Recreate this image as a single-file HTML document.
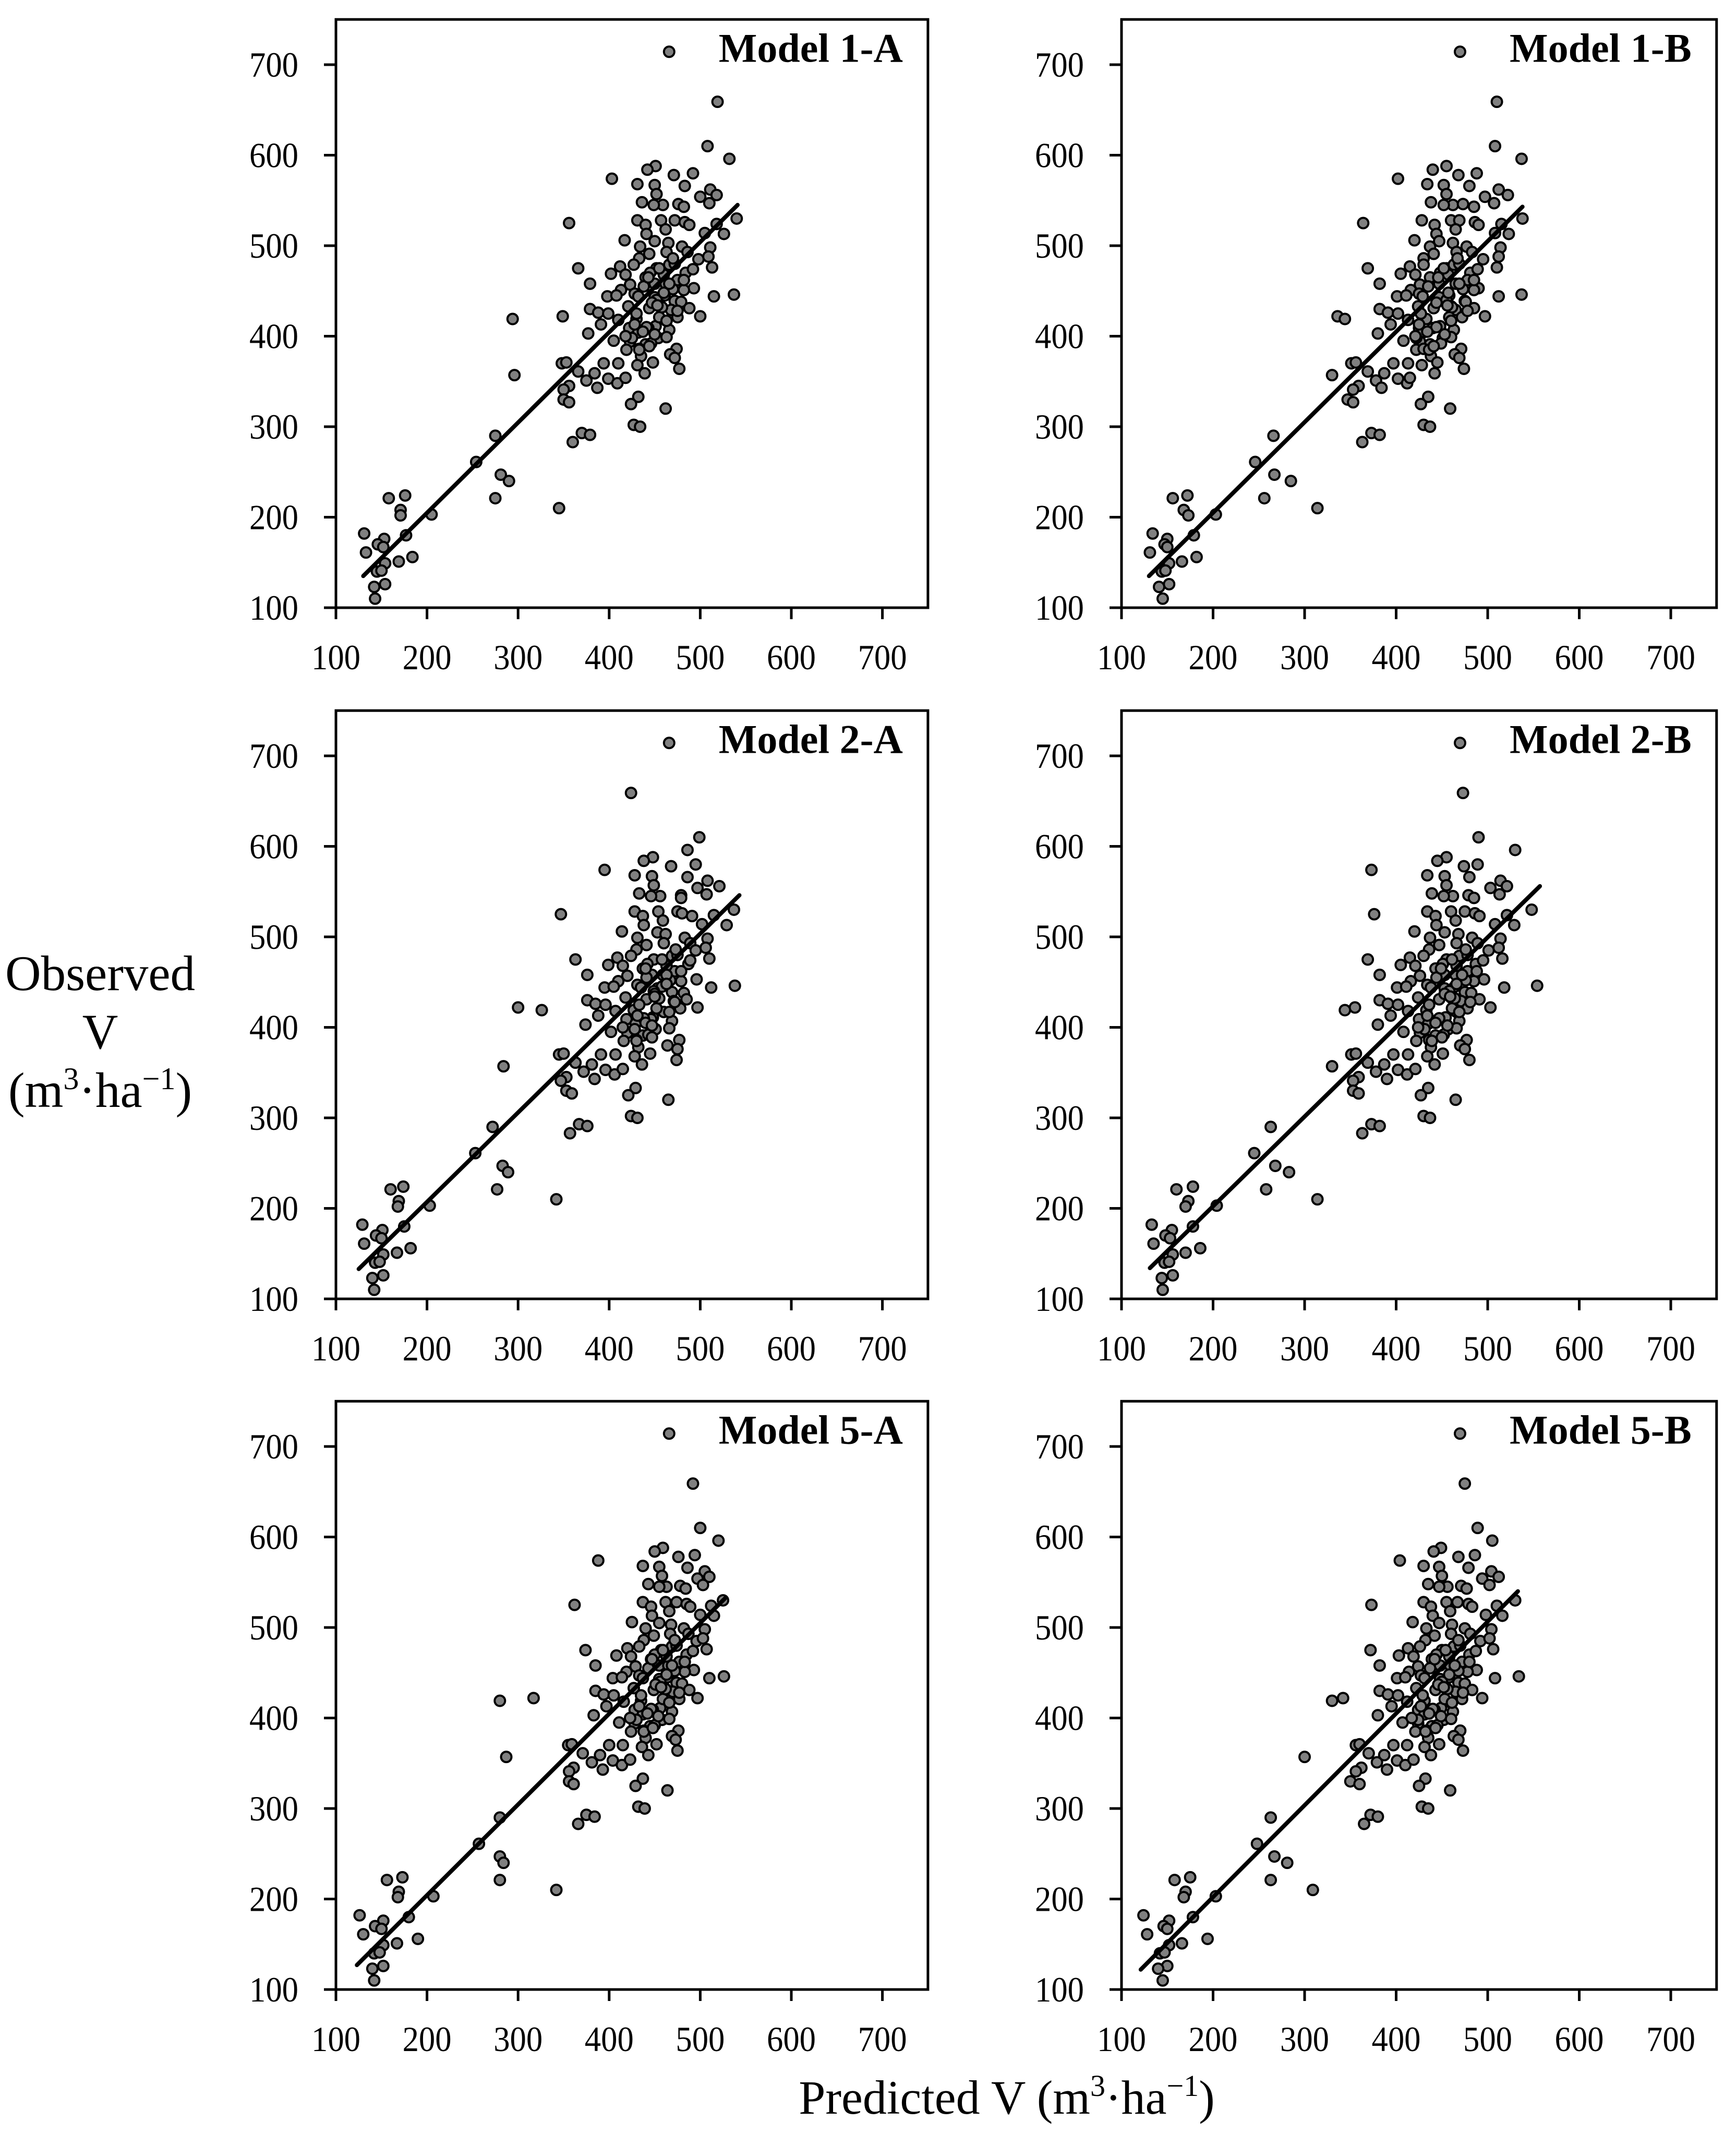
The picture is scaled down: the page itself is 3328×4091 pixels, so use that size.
<!DOCTYPE html>
<html><head><meta charset="utf-8"><style>
html,body{margin:0;padding:0;background:#fff;}
svg{display:block;font-family:"Liberation Serif",serif;}
</style></head><body>
<svg id="chart" xmlns="http://www.w3.org/2000/svg" width="3328" height="4091" viewBox="0 0 3328 4091">
<rect width="3328" height="4091" fill="#fff"/>
<g id="panels"></g>
<text x="192" y="1898" font-size="95" text-anchor="middle">Observed</text>
<text x="192" y="2010" font-size="95" text-anchor="middle">V</text>
<text x="192" y="2122" font-size="95" text-anchor="middle">(m<tspan font-size="60" dy="-34">3</tspan><tspan dy="34">·ha</tspan><tspan font-size="60" dy="-34">−1</tspan><tspan dy="34">)</tspan></text>
<text x="1930" y="4052" font-size="92" text-anchor="middle">Predicted V (m<tspan font-size="58" dy="-34">3</tspan><tspan dy="34">·ha</tspan><tspan font-size="58" dy="-34">−1</tspan><tspan dy="34">)</tspan></text>
</svg>
<script>
const panelTitles = ["Model 1-A","Model 1-B","Model 2-A","Model 2-B","Model 5-A","Model 5-B"];
const xTicks = [100,200,300,400,500,600,700];
const yTicks = [100,200,300,400,500,600,700];
const observed = [659,610,596,588,584,578,580,574,568,567,
566,562,556,554,557,548,545,546,543,547,
545,530,525,528,523,528,528,526,523,524,
514,513,513,518,506,505,503,499,499,498,
491,493,493,485,488,486,479,477,475,479,
475,469,468,465,470,474,476,462,458,457,
458,458,451,453,451,444,445,443,445,439,
438,444,446,433,430,426,431,433,429,431,
425,422,419,422,421,418,419,411,417,413,
409,409,407,403,395,404,394,398,399,391,
385,386,386,380,376,378,371,370,370,370,
371,368,359,361,353,348,354,357,359,351,
343,364,345,341,330,327,333,325,320,302,
300,290,293,291,283,261,247,240,221,210,
221,224,208,202,203,182,180,176,170,167,
161,149,151,156,140,141,126,123,110,
470,455,440,425,410,398,385,468,452,437,
421,405,392,480,462,447,432,417,402,389,
475,458,444,428,413,400,486,465,448,434];
const pred1A = [519,508,532,451,442,471,492,403,431,450,
483,511,518,500,452,436,459,476,482,510,
449,540,356,431,440,457,472,483,488,518,
505,526,441,462,417,450,465,434,480,511,
444,463,486,498,509,433,427,412,452,466,
366,402,418,440,484,492,513,475,379,423,
450,462,413,493,482,398,408,450,461,472,
479,515,537,421,379,388,444,457,468,488,
399,349,294,500,475,410,430,451,463,391,
422,443,466,377,405,432,423,454,463,440,
419,433,474,467,472,435,448,394,410,348,
353,431,439,366,399,409,418,296,384,375,
387,477,356,350,350,356,432,424,462,427,
434,275,370,379,360,254,281,290,275,345,
158,176,171,171,205,131,177,153,146,152,
133,154,169,184,145,150,154,142,143,
445,438,452,430,441,425,433,460,470,447,
455,437,446,472,482,428,458,463,450,444,
455,466,432,475,428,418,470,443,460,453];
const pred1B = [510,508,537,455,440,468,488,402,434,452,
480,512,522,497,455,438,462,473,485,507,
452,538,364,428,442,460,469,486,490,515,
508,523,444,465,420,447,462,437,477,514,
441,466,483,495,512,430,430,415,455,463,
369,405,421,437,481,489,510,478,382,426,
447,465,416,490,485,401,411,447,458,475,
476,512,537,424,382,391,441,460,465,485,
402,336,344,497,472,413,433,448,460,394,
425,440,463,380,408,429,426,451,460,437,
422,430,471,464,469,438,445,397,413,351,
356,428,442,369,402,412,415,330,387,378,
384,474,359,353,347,353,435,427,459,430,
437,266,373,382,363,246,267,285,256,314,
156,172,168,173,203,134,179,150,147,150,
131,152,166,182,144,148,152,141,145,
448,435,455,427,444,422,436,457,473,444,
458,434,449,469,485,425,461,460,453,441,
452,469,429,478,425,421,467,446,457,456];
const pred2A = [424,499,486,448,438,468,495,395,428,447,
486,508,521,497,449,433,456,479,479,507,
446,537,347,428,437,454,475,480,491,515,
502,529,438,459,414,453,462,431,483,508,
441,460,489,495,506,430,424,409,449,469,
363,399,415,437,487,489,510,472,376,420,
447,459,410,496,479,395,405,453,458,469,
482,512,538,418,376,385,441,454,471,485,
396,300,326,497,478,407,427,448,460,388,
419,446,469,374,402,429,420,451,466,437,
416,430,477,464,475,432,445,391,407,345,
350,428,436,363,396,406,415,284,381,372,
384,474,353,347,353,359,429,421,465,424,
431,272,367,376,357,253,283,289,277,342,
160,174,169,168,203,129,175,151,144,150,
131,152,167,182,143,148,152,140,142,
442,441,449,433,438,428,430,463,467,450,
452,440,443,475,479,431,455,466,447,447,
458,463,435,472,431,415,473,440,463,450];
const pred2B = [473,490,530,455,445,474,489,373,434,453,
480,514,521,503,455,439,462,479,485,513,
452,548,376,434,443,460,475,486,491,521,
508,529,444,465,420,453,468,437,483,514,
447,466,489,501,512,436,430,415,455,469,
369,405,421,443,487,495,516,478,382,426,
453,465,416,496,485,401,411,453,464,475,
482,518,554,424,382,391,447,460,471,491,
402,355,344,503,478,413,433,454,466,394,
425,446,469,380,408,435,426,457,466,443,
422,436,477,470,475,438,451,397,413,351,
356,434,442,369,402,412,421,330,387,378,
390,480,359,353,353,359,435,427,465,430,
437,263,373,382,363,245,268,283,258,314,
160,178,173,170,204,133,178,155,148,153,
135,156,170,186,147,152,156,144,145,
451,444,458,436,447,431,439,466,476,453,
461,443,452,478,488,434,464,469,456,450,
461,472,438,481,434,424,476,449,466,459];
const pred5A = [492,500,520,459,450,476,494,388,437,455,
486,505,510,497,458,443,463,478,484,503,
455,525,362,437,446,462,474,485,489,512,
500,515,447,466,425,455,468,440,482,505,
449,467,487,496,503,438,433,420,457,469,
374,408,424,446,485,492,507,477,385,429,
455,465,419,493,483,404,414,455,464,474,
480,510,526,427,385,394,449,461,470,488,
405,317,280,497,477,416,435,456,466,397,
428,448,469,383,411,437,428,458,466,445,
424,438,476,469,473,440,452,400,415,355,
359,436,443,371,404,414,423,287,390,381,
393,475,361,356,356,361,437,429,464,432,
439,280,375,384,366,257,280,284,280,342,
156,173,169,168,207,126,180,152,143,150,
130,152,167,190,142,148,152,140,142,
450,443,456,435,446,430,438,463,472,451,
459,442,450,474,483,433,462,466,454,448,
459,469,437,477,433,423,472,447,463,457];
const pred5B = [475,489,505,449,441,468,486,404,430,447,
479,504,512,494,450,435,456,471,477,502,
447,530,373,430,438,455,467,479,483,510,
498,516,440,459,418,447,461,433,475,504,
442,460,481,492,502,432,426,413,450,463,
372,403,419,439,480,487,506,472,382,424,
448,459,414,488,478,401,410,448,458,468,
475,508,534,422,382,391,443,455,465,483,
402,342,330,494,472,412,431,449,460,395,
424,442,462,380,407,431,424,452,460,439,
421,433,470,463,468,435,447,397,412,356,
360,431,438,370,401,410,419,300,387,379,
390,473,362,356,350,360,432,425,459,428,
435,263,372,380,365,248,267,281,263,309,
158,175,170,168,203,124,178,152,146,150,
128,152,166,194,142,147,150,140,145,
444,437,450,429,440,424,432,458,468,446,
453,436,445,470,480,427,456,461,449,443,
454,464,431,473,427,417,468,442,458,452];
const predSets = [pred1A,pred1B,pred2A,pred2B,pred5A,pred5B];
const fitX = [[130,541],[130,538],[125,543],[131,557],[123,528],[121,533]];
const fitY = [[135,545],[135,543],[133,546],[134,556],[127,533],[122,540]];

const NS = "http://www.w3.org/2000/svg";
const colX0 = [644, 2150];
const colSx = [1.746, 1.755];
const rowY100 = [1165, 2490, 3814];
const sy = 1.735;
const root = document.getElementById("panels");
function mk(tag, attrs, parent){
  const e = document.createElementNS(NS, tag);
  for (const k in attrs) e.setAttribute(k, attrs[k]);
  parent.appendChild(e);
  return e;
}
predSets.forEach((pred, p) => {
  const col = p % 2, row = Math.floor(p / 2);
  const x0 = colX0[col], sx = colSx[col], y0 = rowY100[row];
  const xs = v => x0 + (v - 100) * sx;
  const ys = v => y0 - (v - 100) * sy;
  const g = mk("g", {}, root);
  
  
  const frame = mk("rect", {x: xs(100), y: ys(750), width: xs(750)-xs(100), height: ys(100)-ys(750), fill:"none", stroke:"#000", "stroke-width":5}, g);
  
  
  yTicks.forEach(t => {
    const tk = mk("line", {x1: x0-23, x2: x0, y1: ys(t), y2: ys(t), stroke:"#000", "stroke-width":5}, g);
    
    
    const lb = mk("text", {x: x0-72, y: ys(t)+23, "font-size":68, "text-anchor":"end", textLength:94, lengthAdjust:"spacingAndGlyphs"}, g);
    lb.textContent = t;
    
    
  });
  xTicks.forEach(t => {
    const tk = mk("line", {x1: xs(t), x2: xs(t), y1: y0, y2: y0+22, stroke:"#000", "stroke-width":5}, g);
    
    
    const lb = mk("text", {x: xs(t), y: y0+118, "font-size":68, "text-anchor":"middle", textLength:94, lengthAdjust:"spacingAndGlyphs"}, g);
    lb.textContent = t;
    
    
  });
  const n = Math.min(pred.length, observed.length);
  for (let i = 0; i < n; i++) {
    const c = mk("circle", {cx: xs(pred[i]), cy: ys(observed[i]), r: 10, fill:"#808080", stroke:"#000", "stroke-width":4}, g);
    
    
  }
  const fl = mk("line", {x1: xs(fitX[p][0]), y1: ys(fitY[p][0]), x2: xs(fitX[p][1]), y2: ys(fitY[p][1]), stroke:"#000", "stroke-width":8, "stroke-linecap":"round"}, g);
  
  
  const top = ys(750);
  const title = mk("text", {x: xs(750)-48, y: top+81, "font-size":78, "font-weight":"bold", "text-anchor":"end"}, g);
  title.textContent = panelTitles[p];
  
  
  let w = 357;
  try { w = title.getComputedTextLength() || 357; } catch(e) {}
  const lm = mk("circle", {cx: xs(750)-48-w-95, cy: top+62, r: 10, fill:"#808080", stroke:"#000", "stroke-width":4}, g);
  
  
});
</script>
</body></html>
